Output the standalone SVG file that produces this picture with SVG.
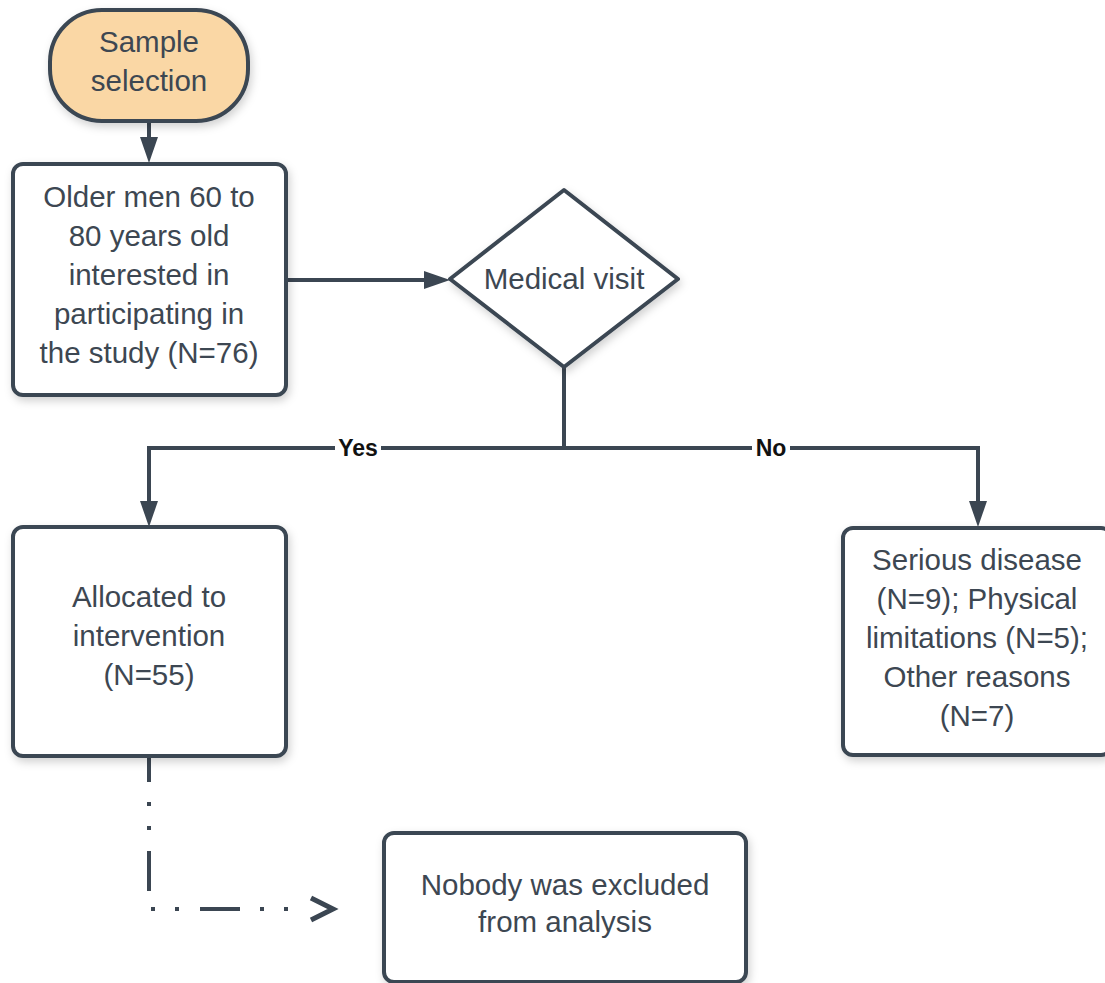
<svg xmlns="http://www.w3.org/2000/svg" width="1105" height="983" viewBox="0 0 1105 983">
<style>
.shape{fill:#ffffff;stroke:#3b4652;stroke-width:4;stroke-linejoin:round;filter:url(#sh)}
.term{fill:#fad7a5}
.t{font-family:"Liberation Sans",Arial,sans-serif;font-size:29.5px;fill:#3d4752;text-anchor:middle}
.lbl{font-family:"Liberation Sans",Arial,sans-serif;font-size:23px;font-weight:bold;fill:#111111;text-anchor:middle}
.c{fill:none;stroke:#3b4652;stroke-width:4}
.dash{stroke-dasharray:40 20 4 20 4 21;stroke-dashoffset:14}
</style>
<defs>
<filter id="sh" x="-10%" y="-10%" width="130%" height="130%">
<feDropShadow dx="2" dy="4" stdDeviation="4" flood-color="#000000" flood-opacity="0.18"/>
</filter>
<marker id="arr" viewBox="0 0 26 18" refX="11" refY="9" markerWidth="26" markerHeight="18" markerUnits="userSpaceOnUse" orient="auto">
<path d="M0,0 L26,9 L0,18 z" fill="#3b4652"/>
</marker>
<marker id="chev" viewBox="0 0 34 30" refX="0" refY="15" markerWidth="34" markerHeight="30" markerUnits="userSpaceOnUse" orient="auto">
<path d="M5,4 L27,15 L5,26" fill="none" stroke="#3b4652" stroke-width="5" stroke-linejoin="miter"/>
</marker>
</defs>
<rect width="1105" height="983" fill="#ffffff"/>

<g id="connectors">
<path class="c" d="M149,121 V148" marker-end="url(#arr)"/>
<path class="c" d="M286,280 H435" marker-end="url(#arr)"/>
<path class="c" d="M564,367 V448 H149 V512" marker-end="url(#arr)"/>
<path class="c" d="M564,448 H978 V512" marker-end="url(#arr)"/>
<path class="c dash" d="M149,756 V909 H306" marker-end="url(#chev)"/>
<rect x="335" y="436" width="46" height="26" fill="#ffffff"/>
<text class="lbl" x="358" y="456">Yes</text>
<rect x="752" y="436" width="38" height="26" fill="#ffffff"/>
<text class="lbl" x="771" y="456">No</text>
</g>

<g id="sample-selection">
<rect class="shape term" x="50" y="10" width="198" height="111" rx="52"/>
<text class="t" x="149" y="52">Sample</text>
<text class="t" x="149" y="91">selection</text>
</g>

<g id="older-men">
<rect class="shape" x="13" y="164" width="273" height="231" rx="10"/>
<text class="t" x="149" y="207">Older men 60 to</text>
<text class="t" x="149" y="246">80 years old</text>
<text class="t" x="149" y="285">interested in</text>
<text class="t" x="149" y="324">participating in</text>
<text class="t" x="149" y="363">the study (N=76)</text>
</g>

<g id="medical-visit">
<polygon class="shape" points="564,190 678,279 564,367 450,279"/>
<text class="t" x="564" y="289">Medical visit</text>
</g>

<g id="allocated">
<rect class="shape" x="13" y="527" width="273" height="229" rx="10"/>
<text class="t" x="149" y="607">Allocated to</text>
<text class="t" x="149" y="646">intervention</text>
<text class="t" x="149" y="685">(N=55)</text>
</g>

<g id="excluded-reasons">
<rect class="shape" x="843" y="528" width="268" height="227" rx="10"/>
<text class="t" x="977" y="570">Serious disease</text>
<text class="t" x="977" y="609">(N=9); Physical</text>
<text class="t" x="977" y="648">limitations (N=5);</text>
<text class="t" x="977" y="687">Other reasons</text>
<text class="t" x="977" y="726">(N=7)</text>
</g>

<g id="nobody-excluded">
<rect class="shape" x="384" y="833" width="362" height="149" rx="10"/>
<text class="t" x="565" y="895">Nobody was excluded</text>
<text class="t" x="565" y="932">from analysis</text>
</g>
</svg>
